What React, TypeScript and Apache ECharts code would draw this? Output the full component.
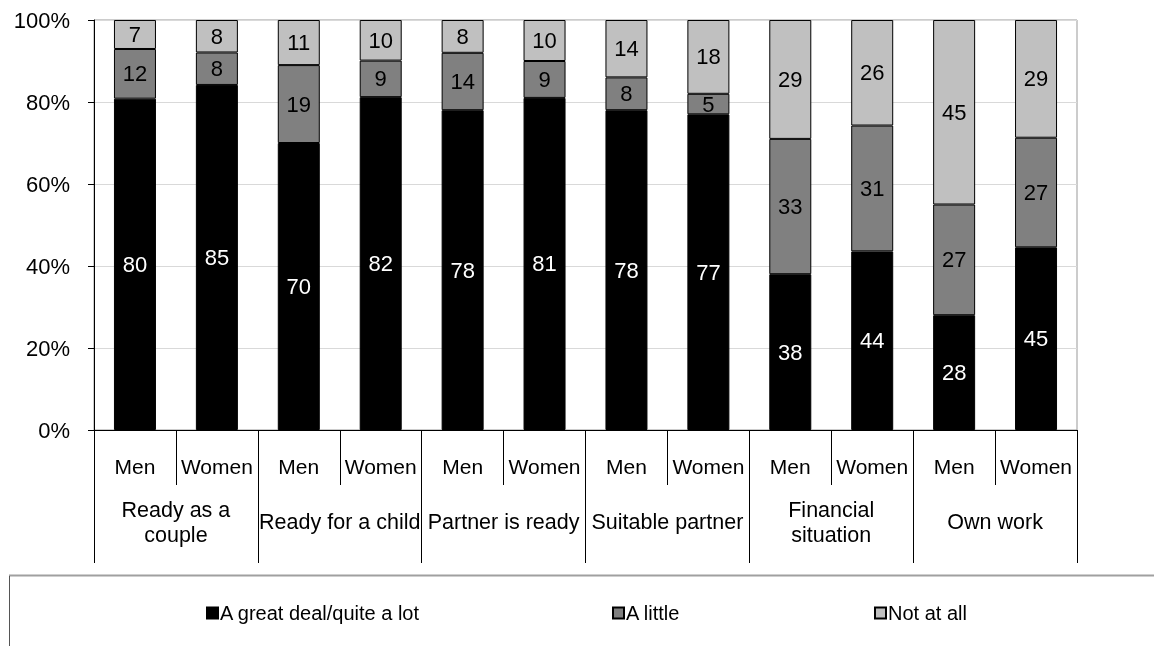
import React, { useEffect, useRef } from "react";
import * as echarts from "echarts";

const subCategories = ["Men", "Women", "Men", "Women", "Men", "Women", "Men", "Women", "Men", "Women", "Men", "Women"];
const groups = ["Ready as a\ncouple", "Ready for a child", "Partner is ready", "Suitable partner", "Financial\nsituation", "Own work"];
const seriesNames = ["A great deal/quite a lot", "A little", "Not at all"];
const greatDeal = [80, 85, 70, 82, 78, 81, 78, 77, 38, 44, 28, 45];
const aLittle = [12, 8, 19, 9, 14, 9, 8, 5, 33, 31, 27, 27];
const notAtAll = [7, 8, 11, 10, 8, 10, 14, 18, 29, 26, 45, 29];
const colors = ["#000000", "#808080", "#c0c0c0"];
const labelColors = ["#ffffff", "#000000", "#000000"];

const FONT = "'Liberation Sans', Arial, sans-serif";

export default function App() {
  const ref = useRef<HTMLDivElement>(null);
  useEffect(() => {
    if (!ref.current) return;
    const chart = echarts.init(ref.current, null, { renderer: "svg" });
    const raw = [greatDeal, aLittle, notAtAll];
    const totals = greatDeal.map((_, i) => greatDeal[i] + aLittle[i] + notAtAll[i]);
    const series = raw.map((arr, s) => ({
      name: seriesNames[s],
      type: "bar",
      stack: "total",
      barWidth: 42,
      xAxisIndex: 0,
      data: arr.map((v, i) => (v / totals[i]) * 100),
      itemStyle: { color: colors[s], borderColor: "#000", borderWidth: 1 },
      label: {
        show: true,
        position: "inside",
        fontSize: 22,
        fontFamily: FONT,
        color: labelColors[s],
        formatter: (p: any) => String(arr[p.dataIndex]),
      },
    }));
    const legendLefts = [206, 612, 874];
    chart.setOption({
      animation: false,
      textStyle: { fontFamily: FONT },
      grid: { left: 94, right: 77, top: 20, bottom: 216, show: true, borderColor: "#999", borderWidth: 1 },
      legend: seriesNames.map((n, i) => ({
        data: [n],
        left: legendLefts[i],
        top: 603,
        padding: 0,
        itemWidth: 11,
        itemHeight: 11,
        itemGap: 0,
        icon: "rect",
        textStyle: { fontSize: 20, color: "#000", fontFamily: FONT, padding: [0, 0, 0, -3] },
      })),
      xAxis: [
        {
          type: "category",
          position: "bottom",
          data: subCategories,
          axisLine: { show: true, lineStyle: { color: "#000", width: 1 } },
          axisTick: { show: true, length: 55, lineStyle: { color: "#000" }, interval: 0 },
          axisLabel: { interval: 0, margin: 36, verticalAlign: "middle", fontSize: 21, color: "#000", fontFamily: FONT },
        },
        {
          type: "category",
          position: "bottom",
          offset: 0,
          data: groups,
          axisLine: { show: false },
          axisTick: { show: true, length: 133, lineStyle: { color: "#000" }, interval: 0 },
          axisLabel: { interval: 0, margin: 92, verticalAlign: "middle", lineHeight: 25, fontSize: 21.5, color: "#000", fontFamily: FONT },
        },
      ],
      yAxis: {
        type: "value",
        min: 0,
        max: 100,
        interval: 20,
        axisLine: { show: true, lineStyle: { color: "#000" } },
        axisTick: { show: true, length: 6, lineStyle: { color: "#000" } },
        axisLabel: { formatter: "{value}%", fontSize: 22, color: "#000", margin: 24, fontFamily: FONT },
        splitLine: { show: true, lineStyle: { color: "#d9d9d9" } },
      },
      graphic: [
        { type: "line", shape: { x1: 9, y1: 575.5, x2: 1154, y2: 575.5 }, style: { stroke: "#a0a0a0", lineWidth: 2 } },
        { type: "line", shape: { x1: 9.5, y1: 576, x2: 9.5, y2: 646 }, style: { stroke: "#555", lineWidth: 1 } },
      ],
      series,
    });
    return () => chart.dispose();
  }, []);
  return <div ref={ref} style={{ position: "fixed", left: 0, top: 0, width: 1154, height: 646 }} />;
}
